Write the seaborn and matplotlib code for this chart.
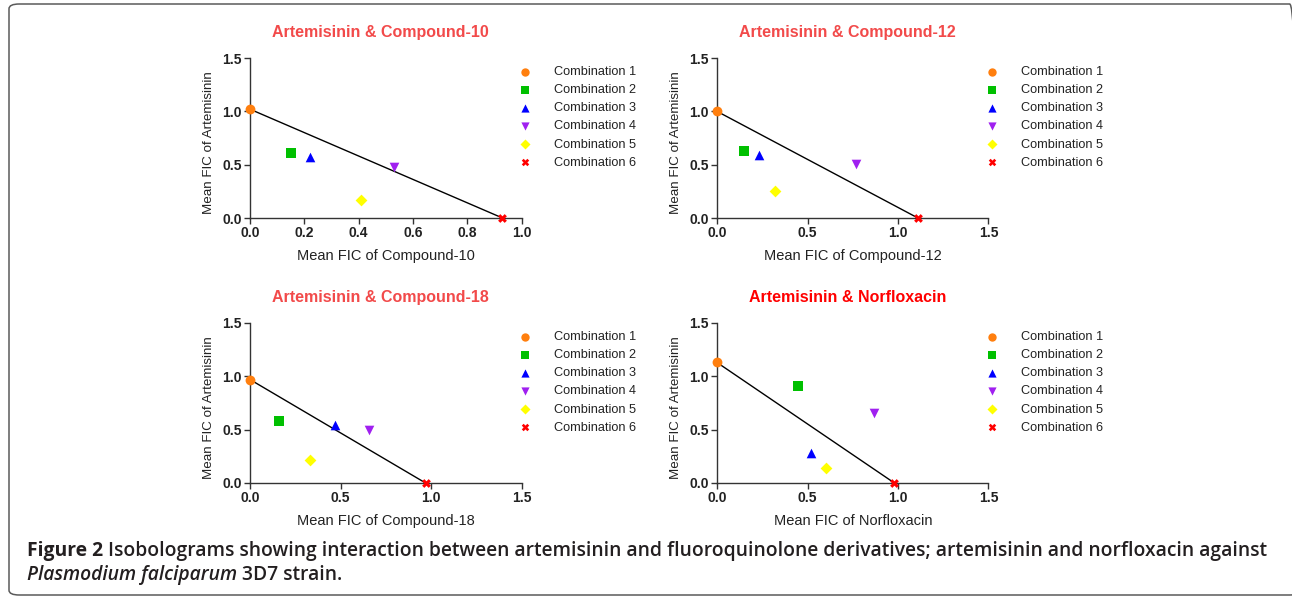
import numpy as np
import pandas as pd
import matplotlib
matplotlib.use("Agg")
import matplotlib.pyplot as plt
import matplotlib.font_manager as fm
import seaborn as sns
from matplotlib.patches import FancyBboxPatch

# ---------------- data ----------------
combos = ["Combination 1", "Combination 2", "Combination 3",
          "Combination 4", "Combination 5", "Combination 6"]

titles = ["Artemisinin & Compound-10", "Artemisinin & Compound-12",
          "Artemisinin & Compound-18", "Artemisinin & Norfloxacin"]
xlabels = ["Mean FIC of Compound-10", "Mean FIC of Compound-12",
           "Mean FIC of Compound-18", "Mean FIC of Norfloxacin"]
ylabel = "Mean FIC of Artemisinin"

x_c10 = [0.00, 0.15, 0.22, 0.53, 0.41, 0.93]
y_c10 = [1.02, 0.61, 0.57, 0.48, 0.17, 0.00]
x_c12 = [0.00, 0.15, 0.23, 0.77, 0.32, 1.11]
y_c12 = [1.00, 0.63, 0.59, 0.51, 0.25, 0.00]
x_c18 = [0.00, 0.16, 0.47, 0.66, 0.33, 0.97]
y_c18 = [0.97, 0.58, 0.54, 0.50, 0.22, 0.00]
x_nor = [0.00, 0.45, 0.52, 0.87, 0.60, 0.98]
y_nor = [1.13, 0.91, 0.28, 0.66, 0.14, 0.00]

xs = [x_c10, x_c12, x_c18, x_nor]
ys = [y_c10, y_c12, y_c18, y_nor]
xmax = [1.0, 1.5, 1.5, 1.5]
xticks = [[0.0, 0.2, 0.4, 0.6, 0.8, 1.0], [0.0, 0.5, 1.0, 1.5],
          [0.0, 0.5, 1.0, 1.5], [0.0, 0.5, 1.0, 1.5]]
yticks = [0.0, 0.5, 1.0, 1.5]

caption_bold = "Figure 2"
caption_rest1 = " Isobolograms showing interaction between artemisinin and fluoroquinolone derivatives; artemisinin and norfloxacin against"
caption_ital = "Plasmodium falciparum"
caption_rest2 = " 3D7 strain."

# ---------------- style ----------------
palette = {combos[0]: "#ff7f0e", combos[1]: "#00c000", combos[2]: "#0000ff",
           combos[3]: "#a020f0", combos[4]: "#ffff00", combos[5]: "#ff0000"}
markers = {combos[0]: "o", combos[1]: "s", combos[2]: "^",
           combos[3]: "v", combos[4]: "D", combos[5]: "X"}
sizes_marker = {combos[0]: 50, combos[1]: 42, combos[2]: 48,
                combos[3]: 48, combos[4]: 36, combos[5]: 40}
title_colors = ["#f24a4a", "#f24a4a", "#f24a4a", "#ff0000"]


def pick(names):
    for n in names:
        try:
            fm.findfont(fm.FontProperties(family=n), fallback_to_default=False)
            return n
        except Exception:
            continue
    return "DejaVu Sans"


chart_font = pick(["Liberation Sans", "Arimo", "Roboto"])
cap_font = pick(["Open Sans", "Noto Sans"])

sns.set_theme(style="ticks")
plt.rcParams["font.family"] = [chart_font, "DejaVu Sans"]

W, H = 1292, 598
fig = plt.figure(figsize=(W / 100, H / 100), dpi=100)

frame = FancyBboxPatch((9 / W, 3 / H), (1300 - 9) / W, (594 - 3) / H,
                       boxstyle="round,pad=0,rounding_size=0.008",
                       transform=fig.transFigure, fill=False,
                       edgecolor="#5a5a5a", linewidth=1.1)
fig.patches.append(frame)

lefts = [250, 717, 250, 717]
tops = [58, 58, 323, 323]
aw = 271.5
ah = 160

for i in range(4):
    ax = fig.add_axes([lefts[i] / W, 1 - (tops[i] + ah) / H, aw / W, ah / H])
    df = pd.DataFrame({"x": xs[i], "y": ys[i], "combo": combos})
    line_df = df.iloc[[0, 5]]
    sns.lineplot(data=line_df, x="x", y="y", ax=ax, color="black",
                 linewidth=1.0, sort=False, legend=False, zorder=2)
    for c in combos:
        sub = df[df["combo"] == c]
        sns.scatterplot(data=sub, x="x", y="y", ax=ax, color=palette[c],
                        marker=markers[c], s=sizes_marker[c], linewidth=0,
                        label=c, zorder=3, clip_on=False)
    ax.set_xlim(0, xmax[i])
    ax.set_ylim(0, 1.5)
    ax.set_xticks(xticks[i])
    ax.set_yticks(yticks)
    ax.set_xticklabels([f"{t:.1f}" for t in xticks[i]], fontweight="bold", fontsize=10)
    ax.set_yticklabels([f"{t:.1f}" for t in yticks], fontweight="bold", fontsize=10)
    ax.tick_params(length=4, width=1.0, color="#333333", pad=2, labelcolor="#222222")
    for sp in ["top", "right"]:
        ax.spines[sp].set_visible(False)
    for sp in ["left", "bottom"]:
        ax.spines[sp].set_color("#333333")
        ax.spines[sp].set_linewidth(1.0)
    ax.set_facecolor("none")
    ax.set_xlabel(xlabels[i], fontsize=10.5, color="#222222", labelpad=6)
    ax.set_ylabel(ylabel, fontsize=9.6, color="#222222", labelpad=5)
    ax.yaxis.label.set_y(0.47)
    ax.set_title(titles[i], fontsize=11.5, fontweight="bold",
                 color=title_colors[i], pad=15, x=0.48)
    leg = ax.legend(loc="upper left", bbox_to_anchor=(0.972, 0.982),
                    frameon=False, fontsize=9.2, handletextpad=1.7,
                    labelspacing=0.48, borderaxespad=0, handlelength=1.0,
                    markerscale=0.85)
    for t in leg.get_texts():
        t.set_color("#222222")

# caption
fig.canvas.draw()
r = fig.canvas.get_renderer()
fam = [cap_font, "DejaVu Sans"]
y1 = 1 - 556 / H
y2 = 1 - 580 / H
x0 = 27 / W
target_right = 1263


def draw_caption(fs):
    t1 = fig.text(x0, y1, caption_bold, fontsize=fs, fontweight="bold",
                  family=fam, color="#231f20", va="baseline")
    bb = t1.get_window_extent(r)
    t2 = fig.text(bb.x1 / W, y1, caption_rest1, fontsize=fs,
                  fontweight="semibold", family=fam, color="#231f20",
                  va="baseline")
    t3 = fig.text(x0, y2, caption_ital, fontsize=fs, fontweight="semibold",
                  style="italic", family=fam, color="#231f20", va="baseline")
    bb3 = t3.get_window_extent(r)
    t4 = fig.text(bb3.x1 / W, y2, caption_rest2, fontsize=fs,
                  fontweight="semibold", family=fam, color="#231f20",
                  va="baseline")
    return [t1, t2, t3, t4]


fs = 13.0
objs = draw_caption(fs)
right = objs[1].get_window_extent(r).x1
for o in objs:
    o.remove()
fs = fs * (target_right - 27) / (right - 27)
draw_caption(fs)

fig.savefig("out.png", dpi=100)
